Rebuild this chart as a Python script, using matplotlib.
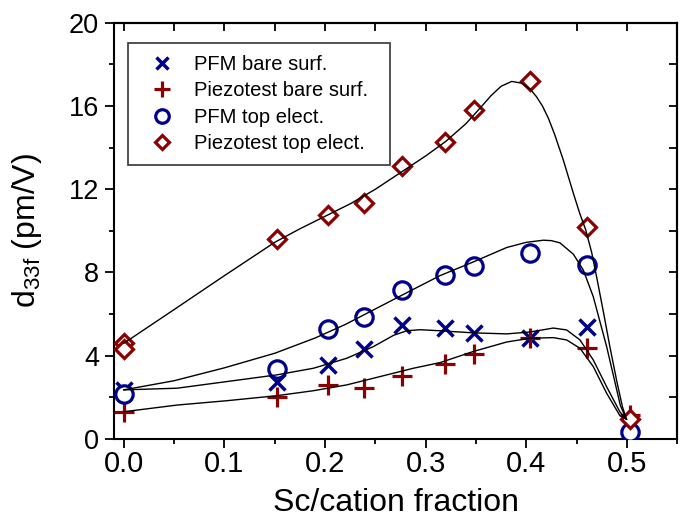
import matplotlib
matplotlib.use("Agg")
import matplotlib.pyplot as plt
from matplotlib.ticker import MultipleLocator, FormatStrFormatter

plt.rcParams['font.family'] = ['Liberation Sans', 'DejaVu Sans']
plt.rcParams['mathtext.default'] = 'regular'

# ---- data ----
x_pfm_bare = [0.0, 0.152, 0.203, 0.239, 0.276, 0.319, 0.348, 0.404, 0.460]
y_pfm_bare = [2.35, 2.75, 3.56, 4.31, 5.48, 5.35, 5.08, 4.84, 5.40]

x_pz_bare = [0.0, 0.152, 0.203, 0.239, 0.276, 0.319, 0.348, 0.404, 0.460, 0.503]
y_pz_bare = [1.31, 2.00, 2.60, 2.44, 3.02, 3.58, 4.06, 4.84, 4.36, 1.15]

x_pfm_top = [0.0, 0.152, 0.203, 0.239, 0.276, 0.319, 0.348, 0.404, 0.460, 0.503]
y_pfm_top = [2.15, 3.35, 5.30, 5.88, 7.15, 7.88, 8.32, 8.92, 8.37, 0.35]

x_pz_top = [0.0, 0.0, 0.152, 0.203, 0.239, 0.276, 0.319, 0.348, 0.404, 0.460, 0.503]
y_pz_top = [4.60, 4.30, 9.63, 10.77, 11.35, 13.10, 14.29, 15.80, 17.18, 10.20, 0.97]

# guide curves
cx_pz_top = [0.000, 0.050, 0.100, 0.150, 0.175, 0.200, 0.225, 0.250, 0.275, 0.300,
             0.320, 0.340, 0.355, 0.365, 0.375, 0.3855, 0.395, 0.404, 0.410, 0.416,
             0.422, 0.428, 0.4367, 0.4467, 0.453, 0.459, 0.465, 0.470, 0.477, 0.483,
             0.490, 0.4955, 0.4995]
cy_pz_top = [4.60, 6.22, 7.85, 9.45, 10.10, 10.70, 11.30, 12.00, 12.80, 13.60,
             14.30, 15.15, 15.95, 16.50, 16.95, 17.18, 17.10, 16.80, 16.45, 16.00,
             15.40, 14.65, 13.41, 11.81, 10.85, 10.05, 8.95, 7.75, 6.00, 4.44,
             2.75, 1.55, 0.95]

cx_pfm_top = [0.000, 0.050, 0.100, 0.150, 0.190, 0.220, 0.250, 0.280, 0.3143,
              0.347, 0.3805, 0.400, 0.417, 0.425, 0.4335, 0.4467, 0.4566, 0.4665,
              0.4798, 0.487, 0.4935, 0.4995]
cy_pfm_top = [2.36, 2.80, 3.42, 4.12, 4.85, 5.50, 6.25, 7.00, 7.85,
              8.50, 9.20, 9.45, 9.55, 9.53, 9.42, 8.88, 8.12, 6.84,
              4.44, 2.95, 1.60, 0.95]

cx_pfm_bare = [0.000, 0.0528, 0.1025, 0.152, 0.1885, 0.2216, 0.248, 0.268, 0.2812,
               0.2944, 0.3143, 0.347, 0.3805, 0.4037, 0.4268, 0.440, 0.4533, 0.4665,
               0.4798, 0.493, 0.4995]
cy_pfm_bare = [2.36, 2.44, 2.76, 3.08, 3.40, 3.88, 4.44, 4.98, 5.20,
               5.25, 5.20, 5.10, 5.05, 5.14, 5.33, 5.24, 4.76, 3.80,
               2.51, 1.30, 0.95]

cx_pz_bare = [0.000, 0.0528, 0.1025, 0.152, 0.1885, 0.2216, 0.2547, 0.2878, 0.3143,
              0.347, 0.3805, 0.4037, 0.4268, 0.440, 0.4533, 0.4665, 0.4798, 0.493,
              0.4995]
cy_pz_bare = [1.31, 1.63, 1.84, 2.08, 2.32, 2.60, 3.00, 3.40, 3.67,
              4.20, 4.66, 4.84, 4.87, 4.76, 4.36, 3.48, 2.20, 1.12,
              0.95]

labels = ['PFM bare surf.', 'Piezotest bare surf.', 'PFM top elect.', 'Piezotest top elect.']
blue = '#00008B'
red = '#8B0000'

fig = plt.figure(figsize=(6.88, 5.21), dpi=100)
ax = fig.add_axes([0.1654, 0.1574, 0.819, 0.799])

ax.plot(x_pfm_bare, y_pfm_bare, ls='none', marker='x', ms=11, mew=2.5, color=blue,
        label=labels[0], zorder=3)
ax.plot(x_pz_bare, y_pz_bare, ls='none', marker='+', ms=14, mew=2.3, color=red,
        label=labels[1], zorder=3)
ax.plot(x_pfm_top, y_pfm_top, ls='none', marker='o', ms=12.5, mew=2.3, mec=blue,
        mfc='white', label=labels[2], zorder=4)
ax.plot(x_pz_top, y_pz_top, ls='none', marker='D', ms=9.3, mew=2.3, mec=red,
        mfc='white', label=labels[3], zorder=4)

for cx, cy in [(cx_pz_top, cy_pz_top), (cx_pfm_top, cy_pfm_top),
               (cx_pfm_bare, cy_pfm_bare), (cx_pz_bare, cy_pz_bare)]:
    ax.plot(cx, cy, color='black', lw=1.0, zorder=5, solid_joinstyle='round')

ax.set_xlim(-0.01, 0.55)
ax.set_ylim(0, 20)
ax.xaxis.set_major_locator(MultipleLocator(0.1))
ax.xaxis.set_minor_locator(MultipleLocator(0.05))
ax.yaxis.set_major_locator(MultipleLocator(4))
ax.yaxis.set_minor_locator(MultipleLocator(2))
ax.xaxis.set_major_formatter(FormatStrFormatter('%.1f'))

for s in ax.spines.values():
    s.set_linewidth(1.5)

ax.tick_params(axis='both', which='major', direction='out', length=6.5, width=1.3)
ax.tick_params(axis='both', which='minor', direction='out', length=3.5, width=1.3)
ax.tick_params(axis='x', which='major', labelsize=21, pad=1.5)
ax.tick_params(axis='y', which='major', labelsize=19.5, pad=4)

secx = ax.secondary_xaxis('top')
secx.xaxis.set_major_locator(MultipleLocator(0.05))
secx.tick_params(direction='in', length=6, width=1.3, labeltop=False)
secx.spines['top'].set_linewidth(1.5)
secy = ax.secondary_yaxis('right')
secy.yaxis.set_major_locator(MultipleLocator(2))
secy.tick_params(direction='in', length=6, width=1.3, labelright=False)
secy.spines['right'].set_linewidth(1.5)

ax.set_xlabel('Sc/cation fraction', fontsize=23)
ax.set_ylabel(r'd$_{33f}$ (pm/V)', fontsize=23)
ax.xaxis.set_label_coords(0.5, -0.118)
ax.yaxis.set_label_coords(-0.124, 0.5)

leg = ax.legend(loc='upper left', bbox_to_anchor=(0.0252, 0.663, 0.465, 0.288),
                mode='expand', borderaxespad=0, fontsize=14.5, markerscale=0.78,
                handlelength=2.2, handletextpad=0.5, labelspacing=0.36,
                borderpad=0.6, fancybox=False, framealpha=1, edgecolor='#444444')
leg.get_frame().set_linewidth(1.3)
leg.set_zorder(6)

fig.savefig('out.png', dpi=100)
